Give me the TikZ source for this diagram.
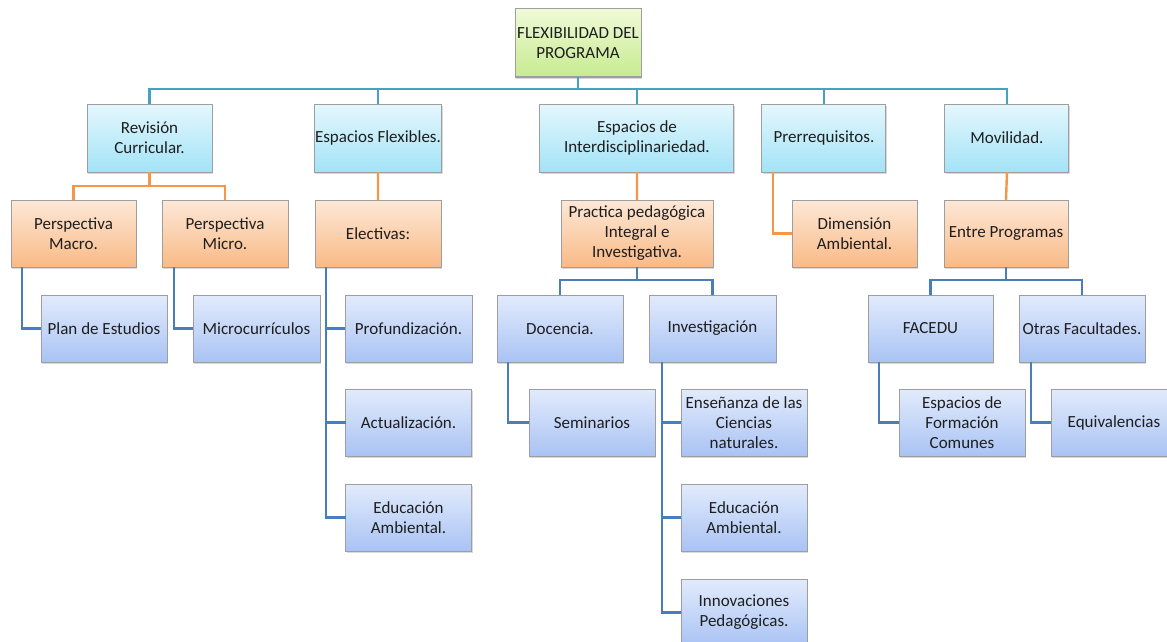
\documentclass[tikz,border=0pt]{standalone}
\usepackage{fontspec}
\setmainfont{Carlito}
\usetikzlibrary{positioning,shadows}

\definecolor{boxgray}{HTML}{9E9E9E}
\definecolor{textgray}{HTML}{1E1E1E}
\definecolor{greentop}{HTML}{F0FAD8}
\definecolor{greenbot}{HTML}{C6EB8F}
\definecolor{skytop}{HTML}{E4F7FD}
\definecolor{skybot}{HTML}{A3E3F7}
\definecolor{peachtop}{HTML}{FDE8D7}
\definecolor{peachbot}{HTML}{F9BA86}
\definecolor{lilactop}{HTML}{E2EBFC}
\definecolor{lilacbot}{HTML}{A9C3F4}
\definecolor{tealcol}{HTML}{43A3C0}
\definecolor{orangecol}{HTML}{F79646}
\definecolor{bluecol}{HTML}{4A7EBB}

\begin{document}
\begin{tikzpicture}[x=1pt,y=-1pt,every node/.style={block},
				block/.style={draw=boxgray,line width=1pt,rectangle,align=center,
					minimum width=126pt,minimum height=67pt,inner sep=1pt,outer sep=0pt,
					text=textgray,font=\fontsize{17}{20}\selectfont,
					drop shadow={shadow xshift=1.2pt,shadow yshift=-1.5pt,opacity=0.3}},
				mainbox/.style={top color=greentop,bottom color=greenbot,minimum height=68pt},
				skybox/.style={top color=skytop,bottom color=skybot,minimum height=68pt},
				peachbox/.style={top color=peachtop,bottom color=peachbot},
				lilacbox/.style={top color=lilactop,bottom color=lilacbot},
				tealline/.style={draw=tealcol,line width=2.4pt},
				peachline/.style={draw=orangecol,line width=2.4pt},
				lilacline/.style={draw=bluecol,line width=2.4pt}]
				\path[use as bounding box] (0,0) rectangle (1167,642);
				% raiz
				\node (FLEX)  [mainbox,anchor=north west] at (515,9) {FLEXIBILIDAD DEL\\PROGRAMA};
				% primer nivel
				\node (REV)   [skybox,anchor=north west,minimum width=125pt] at (87,104) {Revisión\\Curricular.};
				\node (ESPF)  [skybox,minimum width=127pt,right=102pt of REV]  {Espacios Flexibles.};
				\node (INTER) [skybox,minimum width=194pt,right=98pt of ESPF]  {Espacios de\\Interdisciplinariedad.};
				\node (PRE)   [skybox,minimum width=124pt,right=28pt of INTER] {Prerrequisitos.};
				\node (MOV)   [skybox,minimum width=124pt,right=59pt of PRE]   {Movilidad.};
				% segundo nivel
				\node (MACRO) [peachbox,anchor=north west,minimum width=125pt] at (11,200) {Perspectiva\\Macro.};
				\node (MICRO) [peachbox,right=26pt of MACRO] {Perspectiva\\Micro.};
				\node (ELEC)  [peachbox,right=27pt of MICRO] {Electivas:};
				\node (PRAC)  [peachbox,minimum width=152pt,right=120pt of ELEC] {Practica pedagógica\\Integral e\\Investigativa.};
				\node (DIM)   [peachbox,minimum width=125pt,right=79pt of PRAC] {Dimensión\\Ambiental.};
				\node (ENTRE) [peachbox,minimum width=124pt,right=27pt of DIM] {Entre Programas};
				% tercer nivel
				\node (PLAN)  [lilacbox,anchor=north west] at (41,295) {Plan de Estudios};
				\node (MCUR)  [lilacbox,minimum width=127pt,right=26pt of PLAN] {Microcurrículos};
				\node (PROF)  [lilacbox,minimum width=127pt,right=25pt of MCUR] {Profundización.};
				\node (DOC)   [lilacbox,right=25pt of PROF] {Docencia.};
				\node (INV)   [lilacbox,minimum width=127pt,right=26pt of DOC] {Investigación};
				\node (FAC)   [lilacbox,minimum width=125pt,right=92pt of INV] {FACEDU};
				\node (OTR)   [lilacbox,right=26pt of FAC] {Otras Facultades.};
				% cuarto nivel
				\node (ACT)   [lilacbox,below=27pt of PROF] {Actualización.};
				\node (EDU)   [lilacbox,below=28pt of ACT]  {Educación\\Ambiental.};
				\node (SEM)   [lilacbox,anchor=north west] at (529,389) {Seminarios};
				\node (ENS)   [lilacbox,right=26pt of SEM]  {Enseñanza de las\\Ciencias\\naturales.};
				\node (EDUB)  [lilacbox,below=28pt of ENS]  {Educación\\Ambiental.};
				\node (INNO)  [lilacbox,below=28pt of EDUB] {Innovaciones\\Pedagógicas.};
				\node (ESPC)  [lilacbox,right=92pt of ENS]  {Espacios de\\Formación\\Comunes};
				\node (EQU)   [lilacbox,right=26pt of ESPC] {Equivalencias};

				\draw[tealline] (FLEX.south) -- ++(0,12) coordinate (BUS);
				\foreach \n in {REV,ESPF,INTER,PRE,MOV}
					\draw[tealline] (BUS) -| (\n.north);
				\draw[peachline] (REV.south) -- ++(0,14) coordinate (REVB);
				\draw[peachline] (MACRO.north) |- (REVB) -| (MICRO.north);
				\draw[peachline] (ESPF.south) -- (ELEC.north);
				\draw[peachline] (INTER.south) -- (PRAC.north);
				\draw[peachline] ([xshift=11pt]PRE.south west) |- (DIM.west);
				\draw[peachline] (MOV.south) -- (ENTRE.north);
				\draw[lilacline] (PRAC.south) -- ++(0,13) coordinate (PRACB);
				\draw[lilacline] (DOC.north) |- (PRACB) -| (INV.north);
				\draw[lilacline] (ENTRE.south) -- ++(0,13) coordinate (ENTREB);
				\draw[lilacline] (FAC.north) |- (ENTREB) -| (OTR.north);
				\draw[lilacline] ([xshift=11pt]MACRO.south west) |- (PLAN.west);
				\draw[lilacline] ([xshift=12pt]MICRO.south west) |- (MCUR.west);
				\foreach \n in {PROF,ACT,EDU}
					\draw[lilacline] ([xshift=11pt]ELEC.south west) |- (\n.west);
				\draw[lilacline] ([xshift=11pt]DOC.south west) |- (SEM.west);
				\foreach \n in {ENS,EDUB,INNO}
					\draw[lilacline] ([xshift=13pt]INV.south west) |- (\n.west);
				\draw[lilacline] ([xshift=11pt]FAC.south west) |- (ESPC.west);
				\draw[lilacline] ([xshift=12pt]OTR.south west) |- (EQU.west);
			\end{tikzpicture}
\end{document}
